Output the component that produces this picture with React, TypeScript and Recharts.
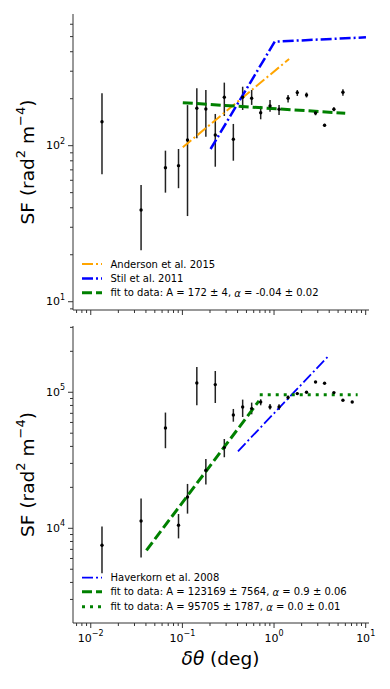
import React from "react";
import { ComposedChart, ErrorBar, Line, Scatter, XAxis, YAxis } from "recharts";

const FONT = "'DejaVu Sans', sans-serif";
const ORANGE = "#ffa500";
const BLUE = "#0000ff";
const GREEN = "#008000";
const SPINE = "#333";

// angular separation bins (deg)
const thetaTop = [
  0.01326, 0.0354, 0.0653, 0.0907, 0.1137, 0.1437, 0.1803, 0.2285, 0.2867, 0.3597, 0.4545,
  0.57, 0.715, 0.904, 1.134, 1.423, 1.794, 2.262, 2.838, 3.559, 4.5, 5.645,
];
const sfTop = [
  142.5, 38.7, 72.2, 74.5, 108.8, 173.8, 171.9, 117.1, 204.4, 110, 204.4,
  201.4, 162.7, 179.7, 171, 201.4, 218.8, 211.3, 162, 135.2, 171, 219.8,
];
const sfTopLow = [
  65.6, 21.4, 50, 53.4, 35.4, 111.5, 114.2, 73.3, 155, 80.1, 169.4,
  182.5, 147.6, 165.2, 157.3, 188.8, 208.3, 203.7, 156.6, 132, 166, 209,
];
const sfTopHigh = [
  217, 56, 92.9, 95.2, 182, 233.5, 227.5, 159.7, 253.6, 137.8, 238.7,
  227.5, 179.7, 196.3, 182.4, 211.3, 227.5, 219, 167.6, 138, 176, 230,
];

const thetaBottom = [
  0.01326, 0.0354, 0.0653, 0.0907, 0.1137, 0.1437, 0.1803, 0.2285, 0.2867, 0.3597, 0.4545,
  0.57, 0.715, 0.904, 1.134, 1.423, 1.794, 2.262, 2.838, 3.559, 4.5, 5.645, 7.13,
];
const sfBottom = [
  7500, 11320, 54640, 10520, 16980, 117000, 26700, 113900, 39210, 68100, 77980,
  75860, 84870, 77980, 77980, 91420, 97800, 100000, 119100, 116400, 99400, 87340, 84870,
];
const sfBottomLow = [
  4677, 6090, 38800, 8430, 12820, 80200, 20960, 83410, 33290, 60780, 65770,
  68870, 80200, 74700, 74130, 88300, 96100, 98800, 118200, 115500, 98500, 86700, 84200,
];
const sfBottomHigh = [
  10290, 16530, 70920, 12740, 21190, 153500, 32290, 143400, 45350, 75390, 88330,
  83950, 88840, 82000, 81660, 94500, 99500, 101200, 120000, 117300, 100300, 88000, 85500,
];

// reference models and fits
const andersonTheta = [0.101, 1.46];
const andersonSF = [97.7, 359.5];
const stilTheta = [0.203, 1.018, 10.07];
const stilSF = [95.2, 464, 495];
const fitTopTheta = [0.101, 5.98];
const fitTopSF = [188.6, 161.4];
const haverkornTheta = [0.404, 4.0];
const haverkornSF = [36840, 187200];
const fitSteepTheta = [0.0405, 0.685];
const fitSteepSF = [6890, 86400];
const fitFlatTheta = [0.698, 8.17];
const fitFlatSF = [96000, 96000];

// axes
const X_DOMAIN = [0.0064, 10.87];
const TOP_Y_DOMAIN = [8.85, 698];
const BOTTOM_Y_DOMAIN = [2013, 307000];
const X_TICKS = [
  0.007, 0.008, 0.009, 0.01, 0.02, 0.03, 0.04, 0.05, 0.06, 0.07, 0.08, 0.09,
  0.1, 0.2, 0.3, 0.4, 0.5, 0.6, 0.7, 0.8, 0.9, 1, 2, 3, 4, 5, 6, 7, 8, 9, 10,
];
const TOP_Y_TICKS = [9, 10, 20, 30, 40, 50, 60, 70, 80, 90, 100, 200, 300, 400, 500, 600];
const BOTTOM_Y_TICKS = [
  3000, 4000, 5000, 6000, 7000, 8000, 9000, 10000, 20000, 30000, 40000, 50000,
  60000, 70000, 80000, 90000, 100000, 200000, 300000,
];

const pairs = (xs: number[], ys: number[]) => xs.map((x, i) => ({ x, y: ys[i] }));
const withErrors = (xs: number[], ys: number[], lo: number[], hi: number[]) =>
  xs.map((x, i) => ({ x, y: ys[i], err: [ys[i] - lo[i], hi[i] - ys[i]] }));

const isMajor = (v: number) => {
  const l = Math.log10(v);
  return Math.abs(l - Math.round(l)) < 1e-6;
};
const expText = (v: number) => {
  const e = Math.round(Math.log10(v));
  return e < 0 ? `\u2212${-e}` : `${e}`;
};

function YTick({ x, y, payload }: any) {
  const major = isMajor(payload.value);
  return (
    <g>
      <line x1={x} x2={x - (major ? 5 : 3)} y1={y} y2={y} stroke={SPINE} strokeWidth={1} />
      {major && (
        <text x={x - 8} y={y} textAnchor="end" dominantBaseline="central" fontSize={11} fontFamily={FONT} fill="#000">
          10<tspan dy={-5} fontSize={8}>{expText(payload.value)}</tspan>
        </text>
      )}
    </g>
  );
}

function XTick({ x, y, payload, showLabel }: any) {
  const major = isMajor(payload.value);
  return (
    <g>
      <line x1={x} x2={x} y1={y} y2={y + (major ? 5 : 3)} stroke={SPINE} strokeWidth={1} />
      {showLabel && major && (
        <text x={x} y={y + 15} textAnchor="middle" dominantBaseline="central" fontSize={11} fontFamily={FONT} fill="#000">
          10<tspan dy={-5} fontSize={8}>{expText(payload.value)}</tspan>
        </text>
      )}
    </g>
  );
}

function axes(yDomain: number[], yTicks: number[], xHeight: number, showLabel: boolean) {
  return [
    <XAxis
      key="x"
      dataKey="x"
      type="number"
      scale="log"
      domain={X_DOMAIN}
      allowDataOverflow
      ticks={X_TICKS}
      interval={0}
      height={xHeight}
      tickLine={false}
      tickSize={0}
      tickMargin={0}
      stroke={SPINE}
      tick={(p: any) => <XTick {...p} showLabel={showLabel} />}
    />,
    <YAxis
      key="y"
      dataKey="y"
      type="number"
      scale="log"
      domain={yDomain}
      allowDataOverflow
      ticks={yTicks}
      interval={0}
      width={73}
      tickLine={false}
      tickSize={0}
      tickMargin={0}
      stroke={SPINE}
      tick={(p: any) => <YTick {...p} />}
    />,
    <XAxis key="xt" xAxisId="top" orientation="top" type="number" domain={[0, 1]} height={0} tick={false} tickLine={false} stroke={SPINE} />,
    <YAxis key="yr" yAxisId="right" orientation="right" type="number" domain={[0, 1]} width={0} tick={false} tickLine={false} stroke={SPINE} />,
  ];
}

const dot = (p: any) => <circle cx={p.cx} cy={p.cy} r={1.7} fill="#000" />;
const DASH_DOT = "11 3 2 3";
const DASHED = "10 4";
const DOTTED = "3 5";

function LegendRow({ y, color, width, dash, children }: any) {
  return (
    <g>
      <line x1={82} x2={102} y1={y} y2={y} stroke={color} strokeWidth={width} strokeDasharray={dash} />
      <text x={110.5} y={y} dominantBaseline="central" fontSize={10} fontFamily={FONT} fill="#000">
        {children}
      </text>
    </g>
  );
}

function YLabel({ cy }: { cy: number }) {
  return (
    <text transform={`translate(27,${cy}) rotate(-90)`} textAnchor="middle" dominantBaseline="central" fontSize={18.5} fontFamily={FONT} fill="#000">
      SF (rad<tspan dy={-7} fontSize={13}>2</tspan>
      <tspan dy={7}> m</tspan>
      <tspan dy={-7} fontSize={13}>{"\u22124"}</tspan>
      <tspan dy={7}>)</tspan>
    </text>
  );
}

export default function App() {
  return (
    <div style={{ position: "absolute", left: 0, top: 0, width: 390, height: 689, background: "#fff" }}>
      <div style={{ position: "absolute", left: 0, top: 0 }}>
        <ComposedChart width={390} height={320} margin={{ top: 14, right: 21, bottom: 0, left: 0 }}>
          {axes(TOP_Y_DOMAIN, TOP_Y_TICKS, 10, false)}
          <Scatter data={withErrors(thetaTop, sfTop, sfTopLow, sfTopHigh)} dataKey="y" shape={dot} isAnimationActive={false}>
            <ErrorBar dataKey="err" direction="y" width={0} stroke="#222" strokeWidth={1.5} />
          </Scatter>
          <Line data={pairs(andersonTheta, andersonSF)} dataKey="y" type="linear" stroke={ORANGE} strokeWidth={2} strokeDasharray={DASH_DOT} dot={false} isAnimationActive={false} />
          <Line data={pairs(stilTheta, stilSF)} dataKey="y" type="linear" stroke={BLUE} strokeWidth={2.5} strokeDasharray={DASH_DOT} dot={false} isAnimationActive={false} />
          <Line data={pairs(fitTopTheta, fitTopSF)} dataKey="y" type="linear" stroke={GREEN} strokeWidth={3} strokeDasharray={DASHED} dot={false} isAnimationActive={false} />
        </ComposedChart>
      </div>
      <div style={{ position: "absolute", left: 0, top: 320 }}>
        <ComposedChart width={390} height={369} margin={{ top: 6, right: 21, bottom: 0, left: 0 }}>
          {axes(BOTTOM_Y_DOMAIN, BOTTOM_Y_TICKS, 66, true)}
          <Scatter data={withErrors(thetaBottom, sfBottom, sfBottomLow, sfBottomHigh)} dataKey="y" shape={dot} isAnimationActive={false}>
            <ErrorBar dataKey="err" direction="y" width={0} stroke="#222" strokeWidth={1.5} />
          </Scatter>
          <Line data={pairs(haverkornTheta, haverkornSF)} dataKey="y" type="linear" stroke={BLUE} strokeWidth={1.8} strokeDasharray={DASH_DOT} dot={false} isAnimationActive={false} />
          <Line data={pairs(fitSteepTheta, fitSteepSF)} dataKey="y" type="linear" stroke={GREEN} strokeWidth={3} strokeDasharray={DASHED} dot={false} isAnimationActive={false} />
          <Line data={pairs(fitFlatTheta, fitFlatSF)} dataKey="y" type="linear" stroke={GREEN} strokeWidth={3} strokeDasharray={DOTTED} dot={false} isAnimationActive={false} />
        </ComposedChart>
      </div>
      <svg width={390} height={689} style={{ position: "absolute", left: 0, top: 0, pointerEvents: "none" }}>
        <YLabel cy={162} />
        <YLabel cy={474.5} />
        <text x={220.5} y={658} textAnchor="middle" dominantBaseline="central" fontSize={18.5} fontFamily={FONT} fill="#000">
          <tspan fontStyle="italic">δθ</tspan> (deg)
        </text>
        <LegendRow y={264} color={ORANGE} width={2} dash={DASH_DOT}>Anderson et al. 2015</LegendRow>
        <LegendRow y={278.5} color={BLUE} width={2.5} dash={DASH_DOT}>Stil et al. 2011</LegendRow>
        <LegendRow y={292.7} color={GREEN} width={3} dash={DASHED}>
          fit to data: A = 172 ± 4, <tspan fontStyle="italic">α</tspan> = -0.04 ± 0.02
        </LegendRow>
        <LegendRow y={577.7} color={BLUE} width={1.8} dash={DASH_DOT}>Haverkorn et al. 2008</LegendRow>
        <LegendRow y={591.7} color={GREEN} width={3} dash={DASHED}>
          fit to data: A = 123169 ± 7564, <tspan fontStyle="italic">α</tspan> = 0.9 ± 0.06
        </LegendRow>
        <LegendRow y={606.7} color={GREEN} width={3} dash={DOTTED}>
          fit to data: A = 95705 ± 1787, <tspan fontStyle="italic">α</tspan> = 0.0 ± 0.01
        </LegendRow>
      </svg>
    </div>
  );
}
